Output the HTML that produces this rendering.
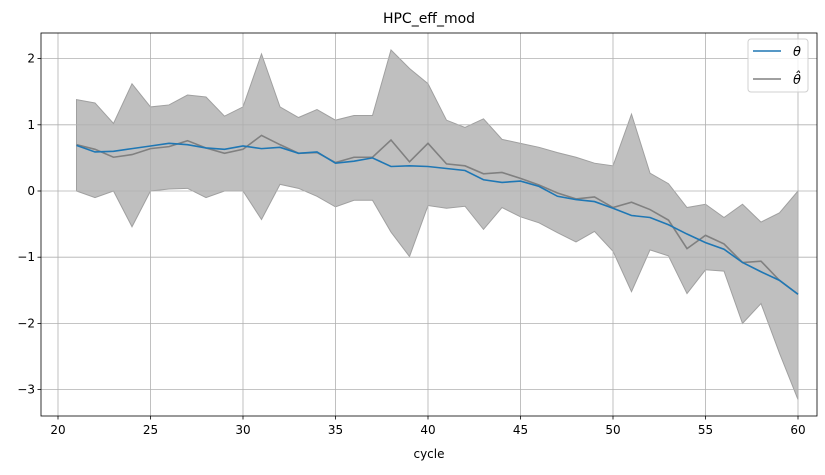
<!DOCTYPE html>
<html><head><meta charset="utf-8"><style>
body{margin:0;background:#fff;font-family:"Liberation Sans","DejaVu Sans",sans-serif;}
svg text{font-family:"DejaVu Sans","Liberation Sans",sans-serif;}
</style></head><body>
<svg id="c" width="825" height="470"></svg>
<script>
const cycles=[];for(let i=21;i<=60;i++)cycles.push(i);
const upper=[1.38,1.33,1.02,1.62,1.27,1.30,1.45,1.42,1.13,1.27,2.07,1.27,1.11,1.23,1.07,1.14,1.14,2.13,1.85,1.62,1.07,0.96,1.09,0.78,0.72,0.66,0.58,0.51,0.42,0.38,1.16,0.27,0.11,-0.25,-0.20,-0.40,-0.20,-0.47,-0.33,0.0];
const lower=[0.0,-0.10,0.0,-0.54,0.0,0.03,0.04,-0.10,0.0,0.0,-0.43,0.10,0.04,-0.08,-0.24,-0.14,-0.14,-0.62,-0.99,-0.22,-0.26,-0.23,-0.58,-0.25,-0.39,-0.48,-0.63,-0.77,-0.61,-0.91,-1.52,-0.89,-0.98,-1.55,-1.19,-1.21,-2.00,-1.70,-2.45,-3.15];
const theta=[0.69,0.59,0.60,0.64,0.68,0.72,0.70,0.65,0.63,0.68,0.64,0.66,0.57,0.59,0.42,0.45,0.50,0.37,0.38,0.37,0.34,0.31,0.17,0.13,0.15,0.07,-0.08,-0.13,-0.16,-0.26,-0.37,-0.40,-0.51,-0.65,-0.78,-0.88,-1.08,-1.22,-1.35,-1.56];
const thetaHat=[0.70,0.63,0.51,0.55,0.64,0.67,0.76,0.65,0.57,0.63,0.84,0.70,0.57,0.58,0.43,0.51,0.51,0.77,0.44,0.72,0.41,0.38,0.26,0.28,0.19,0.09,-0.03,-0.12,-0.09,-0.25,-0.17,-0.28,-0.44,-0.87,-0.67,-0.80,-1.08,-1.06,-1.35,-1.56];
const xTicks=[20,25,30,35,40,45,50,55,60];
const yTicks=[2,1,0,-1,-2,-3];
const L=41,R=817,T=33,B=416;
const X=v=>58+(v-20)*(798-58)/40;
const Y=v=>191-v*66.2;
const s=document.getElementById('c');const NS='http://www.w3.org/2000/svg';
function el(t,a,p){const e=document.createElementNS(NS,t);for(const k in a)e.setAttribute(k,a[k]);(p||s).appendChild(e);return e;}
let d='';cycles.forEach((c,i)=>d+=(i?'L':'M')+X(c)+','+Y(upper[i]));
for(let i=cycles.length-1;i>=0;i--)d+='L'+X(cycles[i])+','+Y(lower[i]);
const band=el('path',{d:d+'Z',fill:'#bfbfbf',stroke:'#a0a0a0','stroke-width':1});


const grid=el('g',{});


xTicks.forEach(v=>{el('line',{x1:X(v),x2:X(v),y1:T,y2:B,stroke:'#b0b0b0','stroke-width':0.8},grid);
 el('line',{x1:X(v),x2:X(v),y1:B,y2:B+3.5,stroke:'#000','stroke-width':0.8});
 const t=el('text',{x:X(v),y:B+18,'font-size':12,'text-anchor':'middle'});t.textContent=v;
 
 });
yTicks.forEach(v=>{el('line',{x1:L,x2:R,y1:Y(v),y2:Y(v),stroke:'#b0b0b0','stroke-width':0.8},grid);
 el('line',{x1:L-3.5,x2:L,y1:Y(v),y2:Y(v),stroke:'#000','stroke-width':0.8});
 const t=el('text',{x:L-6,y:Y(v)+4,'font-size':12,'text-anchor':'end'});t.textContent=(v<0?'\u2212'+(-v):v);
 
 });
function line(arr,col,name){const p=el('polyline',{points:cycles.map((c,i)=>X(c)+','+Y(arr[i])).join(' '),fill:'none',stroke:col,'stroke-width':1.6});
 
 }
line(thetaHat,'#808080','theta-hat-line');
line(theta,'#1f77b4','theta-line');
el('rect',{x:L,y:T,width:R-L,height:B-T,fill:'none',stroke:'#000','stroke-width':0.8});
const ti=el('text',{x:(L+R)/2,y:23,'font-size':14,'text-anchor':'middle'});ti.textContent='HPC_eff_mod';


const xl=el('text',{x:(L+R)/2,y:458,'font-size':12,'text-anchor':'middle'});xl.textContent='cycle';


const lg=el('g',{});


el('rect',{x:748,y:39,width:60,height:53,rx:3,fill:'#fff','fill-opacity':0.8,stroke:'#d0d0d0'},lg);
el('line',{x1:753,x2:781,y1:51,y2:51,stroke:'#1f77b4','stroke-width':1.6},lg);
el('line',{x1:753,x2:781,y1:79,y2:79,stroke:'#808080','stroke-width':1.6},lg);
const a=el('text',{x:793,y:56,'font-size':13,'font-style':'italic'},lg);a.textContent='θ';
const b=el('text',{x:793,y:84,'font-size':13,'font-style':'italic'},lg);b.textContent='θ̂';
</script>
</body></html>
